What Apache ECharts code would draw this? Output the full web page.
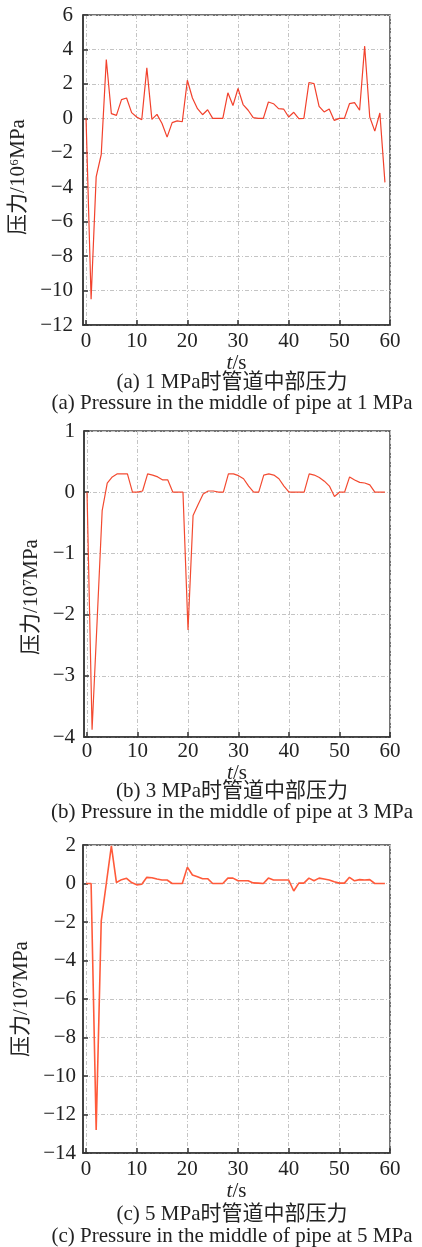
<!DOCTYPE html>
<html>
<head>
<meta charset="utf-8">
<script src="https://cdn.jsdelivr.net/npm/echarts@6/dist/echarts.min.js"></script>
<style>
html,body{margin:0;padding:0;background:#fff;}
#c{width:422px;height:1247px;}
</style>
</head>
<body>
<div id="c"></div>
<script>
// time in seconds
const seconds = [0,1,2,3,4,5,6,7,8,9,10,11,12,13,14,15,16,17,18,19,20,21,22,23,24,25,26,27,28,29,
                 30,31,32,33,34,35,36,37,38,39,40,41,42,43,44,45,46,47,48,49,50,51,52,53,54,55,56,57,58,59];
// (a) 1 MPa, unit 10^6 MPa
const pressure1MPa = [0,-10.5,-3.4,-2.1,3.42,0.27,0.17,1.09,1.18,0.33,0.08,-0.08,2.93,-0.06,0.23,-0.3,-1.09,-0.25,-0.15,-0.2,
                      2.21,1.18,0.56,0.21,0.5,0,0,0,1.48,0.74,1.73,0.8,0.47,0.04,0,0,0.95,0.85,0.56,0.54,
                      0.08,0.35,-0.02,0,2.08,2.02,0.7,0.37,0.54,-0.12,0,0,0.85,0.91,0.47,4.19,0.08,-0.74,0.31,-3.72];
// (b) 3 MPa, unit 10^7 MPa
const pressure3MPa = [0,-3.88,-2.1,-0.3,0.15,0.25,0.3,0.3,0.3,0,0,0.02,0.3,0.28,0.25,0.2,0.2,0,0,0,
                      -2.25,-0.38,-0.2,-0.03,0.02,0.02,0,0,0.3,0.3,0.27,0.22,0.1,0,0,0.28,0.3,0.28,0.22,0.1,
                      0,0,0,0,0.3,0.28,0.24,0.18,0.1,-0.07,0,0,0.25,0.2,0.16,0.15,0.12,0,0,0];
// (c) 5 MPa, unit 10^7 MPa
const pressure5MPa = [0,0,-12.8,-1.95,0,1.95,0.05,0.2,0.27,0.05,-0.07,-0.04,0.32,0.3,0.23,0.18,0.18,0,0,0,
                      0.85,0.44,0.35,0.25,0.25,0,0,0,0.28,0.28,0.14,0.14,0.14,0.03,0.02,0,0.28,0.18,0.18,0.18,
                      0.18,-0.39,0.02,0.02,0.28,0.14,0.28,0.23,0.18,0.09,0.02,0.02,0.32,0.14,0.2,0.18,0.2,0,0,0];
const xTicks = [0,10,20,30,40,50,60];
const yRanges = [[-12,6,2],[-4,1,1],[-14,2,2]];
const yNames = ['压力/10⁶MPa','压力/10⁷MPa','压力/10⁷MPa'];
const captionsCN = ['(a) 1 MPa时管道中部压力','(b) 3 MPa时管道中部压力','(c) 5 MPa时管道中部压力'];
const captionsEN = ['(a) Pressure in the middle of pipe at 1 MPa','(b) Pressure in the middle of pipe at 3 MPa','(c) Pressure in the middle of pipe at 5 MPa'];

const FONT = '"Liberation Serif","Noto Sans CJK SC",serif';
const grids = [
  {left:83, top:15, width:307, height:310},
  {left:84, top:431, width:306, height:306},
  {left:83, top:845, width:307, height:308}
];
const xLabelMargins = [6, 4, 6];
const xNameGaps = [27, 22, 27];
const yLabelMargins = [10, 9, 7];
const yNameGaps = [49, 36, 47];
const yNamePads = [[0,14,0,0],[0,26,0,0],[0,0,0,0]];
const capY = [[382,403],[791,812],[1214,1236]];
const seriesData = [pressure1MPa, pressure3MPa, pressure5MPa];
const lineColors = ['#f2412c','#f34a30','#ff5a3a'];
const lineWidths = [1.2,1.2,1.6];

const option = {
  backgroundColor:'#fff',
  animation:false,
  grid: grids.map(g => Object.assign({show:true, borderColor:'#444', borderWidth:1.5, backgroundColor:'transparent'}, g)),
  xAxis: grids.map((g,i) => ({
    type:'value', gridIndex:i, min:-0.6, max:60,
    axisLine:{show:true, onZero:false, lineStyle:{color:'#333', width:1.5}},
    axisTick:{show:true, inside:true, length:5, customValues:xTicks, lineStyle:{color:'#333', width:1.5}},
    axisLabel:{customValues:xTicks, margin:xLabelMargins[i], color:'#222', fontSize:21, fontFamily:FONT},
    splitLine:{show:true, lineStyle:{color:'#c4c4c4', width:1, type:[4,2,1,2]}},
    name:'{i|t}/s', nameLocation:'middle', nameGap:xNameGaps[i],
    nameTextStyle:{color:'#222', fontSize:21, fontFamily:FONT,
      rich:{i:{fontStyle:'italic', fontSize:21, fontFamily:FONT, color:'#222'}}}
  })),
  yAxis: grids.map((g,i) => ({
    type:'value', gridIndex:i, min:yRanges[i][0], max:yRanges[i][1], interval:yRanges[i][2],
    axisLine:{show:true, onZero:false, lineStyle:{color:'#333', width:1.5}},
    axisTick:{show:true, inside:true, length:5, lineStyle:{color:'#333', width:1.5}},
    axisLabel:{margin:yLabelMargins[i], color:'#222', fontSize:21, fontFamily:FONT,
      formatter:v => String(v).replace('-', '\u2212')},
    splitLine:{show:true, lineStyle:{color:'#c4c4c4', width:1, type:[4,2,1,2]}},
    name:yNames[i], nameLocation:'middle', nameRotate:90, nameGap:yNameGaps[i],
    nameTextStyle:{color:'#222', fontSize:21, fontFamily:FONT, padding:yNamePads[i]}
  })),
  series: seriesData.map((d,i) => ({
    type:'line', xAxisIndex:i, yAxisIndex:i,
    data: seconds.map((t,k) => [t, d[k]]),
    showSymbol:false, symbol:'none',
    lineStyle:{color:lineColors[i], width:lineWidths[i]}
  })),
  graphic: [].concat(...capY.map((yy,i) => [
    {type:'text', x:232, y:yy[0], style:{text:captionsCN[i], textAlign:'center', textVerticalAlign:'middle', fill:'#222', fontSize:21, fontFamily:FONT}},
    {type:'text', x:232, y:yy[1], style:{text:captionsEN[i], textAlign:'center', textVerticalAlign:'middle', fill:'#222', fontSize:21, fontFamily:FONT}}
  ]))
};
const chart = echarts.init(document.getElementById('c'), null, {renderer:'canvas'});
chart.setOption(option);
</script>
</body>
</html>
